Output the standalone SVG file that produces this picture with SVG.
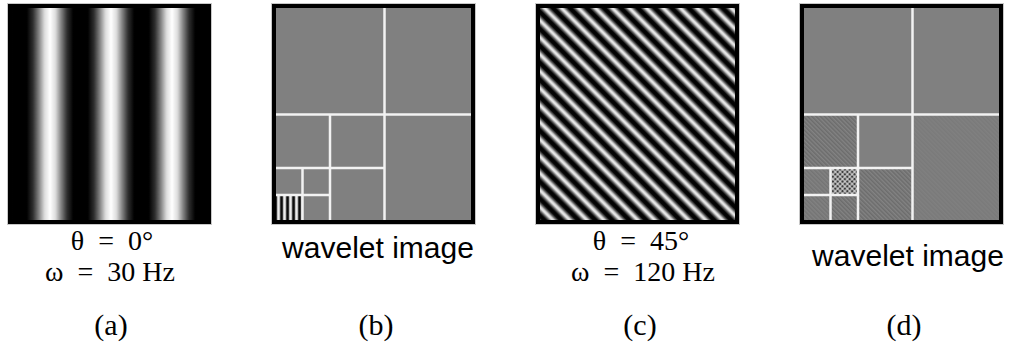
<svg xmlns="http://www.w3.org/2000/svg" width="1018" height="354" viewBox="0 0 1018 354">
<style>
.frame{fill:none;stroke:#000;stroke-width:4}
.halo{fill:none;stroke:#c8c8c8;stroke-width:1}
.grid{stroke:#f2f2f2;stroke-width:2.5;fill:none}
.m{font-family:"Liberation Serif","Times New Roman",serif;font-size:28px;text-anchor:middle;fill:#000}
.s{font-family:"Liberation Sans",Arial,sans-serif;font-size:30px;text-anchor:middle;fill:#000}
.cap{font-family:"Liberation Serif","Times New Roman",serif;font-size:30px;text-anchor:middle;fill:#000}
</style>
<defs>
<linearGradient id="cosA" x1="0" y1="0" x2="1" y2="0">
<stop offset="0" stop-color="#000"/>
<stop offset="0.12" stop-color="#000"/>
<stop offset="0.22" stop-color="#2e2e2e"/>
<stop offset="0.32" stop-color="#858585"/>
<stop offset="0.41" stop-color="#dcdcdc"/>
<stop offset="0.5" stop-color="#fff"/>
<stop offset="0.59" stop-color="#dcdcdc"/>
<stop offset="0.68" stop-color="#858585"/>
<stop offset="0.78" stop-color="#2e2e2e"/>
<stop offset="0.88" stop-color="#000"/>
<stop offset="1" stop-color="#000"/>
</linearGradient>
<linearGradient id="cosC" x1="0" y1="0" x2="1" y2="0">
<stop offset="0" stop-color="#000"/>
<stop offset="0.12" stop-color="#050505"/>
<stop offset="0.27" stop-color="#5a5a5a"/>
<stop offset="0.41" stop-color="#d0d0d0"/>
<stop offset="0.5" stop-color="#f4f4f4"/>
<stop offset="0.59" stop-color="#d0d0d0"/>
<stop offset="0.73" stop-color="#5a5a5a"/>
<stop offset="0.88" stop-color="#050505"/>
<stop offset="1" stop-color="#000"/>
</linearGradient>
<linearGradient id="barG" x1="0" y1="0" x2="1" y2="0">
<stop offset="0" stop-color="#9a9a9a"/>
<stop offset="0.2" stop-color="#f6f6f6"/>
<stop offset="0.4" stop-color="#d0d0d0"/>
<stop offset="0.6" stop-color="#303030"/>
<stop offset="0.8" stop-color="#000"/>
<stop offset="1" stop-color="#555"/>
</linearGradient>
<pattern id="vstripes" patternUnits="userSpaceOnUse" x="19.5" y="0" width="61" height="10">
<rect width="61" height="10" fill="url(#cosA)"/>
</pattern>
<pattern id="dstripes" patternUnits="userSpaceOnUse" width="12" height="12" patternTransform="rotate(-45)">
<rect width="12" height="12" fill="url(#cosC)"/>
</pattern>
<pattern id="bars" patternUnits="userSpaceOnUse" x="13" y="0" width="6" height="10">
<rect width="6" height="10" fill="url(#barG)"/>
</pattern>
<pattern id="texMod" patternUnits="userSpaceOnUse" width="3" height="3" patternTransform="rotate(-45)">
<rect width="3" height="3" fill="#838383"/>
<rect width="1.5" height="3" fill="#6c6c6c"/>
</pattern>
<pattern id="texFaint" patternUnits="userSpaceOnUse" width="3" height="3" patternTransform="rotate(-45)">
<rect width="3" height="3" fill="#828282"/>
<rect width="1.5" height="3" fill="#747474"/>
</pattern>
<pattern id="texVFaint" patternUnits="userSpaceOnUse" width="3" height="3" patternTransform="rotate(-45)">
<rect width="3" height="3" fill="#808080"/>
<rect width="1.5" height="3" fill="#7a7a7a"/>
</pattern>
<pattern id="texStrong" patternUnits="userSpaceOnUse" width="3.4" height="3.4" patternTransform="rotate(45)">
<rect width="3.4" height="3.4" fill="#9a9a9a"/>
<rect width="1.7" height="1.7" fill="#3c3c3c"/>
<rect x="1.7" y="1.7" width="1.7" height="1.7" fill="#c8c8c8"/>
</pattern>
</defs>

<g id="panel-a">
<rect x="10" y="6" width="199" height="216" fill="url(#vstripes)"/>
<rect class="halo" x="7.5" y="3.5" width="204" height="221"/>
<rect class="frame" x="10" y="6" width="199" height="216"/>
<text class="m" x="112" y="250">θ&#8194;=&#8194;0°</text>
<text class="m" x="110" y="281">ω&#8194;=&#8194;30 Hz</text>
<text class="cap" x="111" y="335">(a)</text>
</g>

<g id="panel-b" transform="translate(264,0)">
<rect x="10" y="6" width="199" height="216" fill="#808080"/>
<rect x="12" y="195" width="25.5" height="25" fill="url(#bars)"/>
<g class="grid">
<line x1="120.5" y1="8" x2="120.5" y2="220"/>
<line x1="12" y1="114.5" x2="207" y2="114.5"/>
<line x1="66" y1="114.5" x2="66" y2="220"/>
<line x1="12" y1="168" x2="120.5" y2="168"/>
<line x1="38.5" y1="168" x2="38.5" y2="220"/>
<line x1="12" y1="195" x2="66" y2="195"/>
</g>
<rect class="halo" x="7.5" y="3.5" width="204" height="221"/>
<rect class="frame" x="10" y="6" width="199" height="216"/>
<text class="s" x="114" y="258">wavelet image</text>
<text class="cap" x="112" y="335">(b)</text>
</g>

<g id="panel-c" transform="translate(528,0)">
<rect x="10" y="6" width="199" height="216" fill="url(#dstripes)"/>
<rect class="halo" x="7.5" y="3.5" width="204" height="221"/>
<rect class="frame" x="10" y="6" width="199" height="216"/>
<text class="m" x="113" y="250">θ&#8194;=&#8194;45°</text>
<text class="m" x="115" y="281">ω&#8194;=&#8194;120 Hz</text>
<text class="cap" x="112" y="335">(c)</text>
</g>

<g id="panel-d" transform="translate(792,0)">
<rect x="10" y="6" width="199" height="216" fill="#808080"/>
<rect x="12" y="114.5" width="54" height="53.5" fill="url(#texMod)"/>
<rect x="66" y="168" width="54.5" height="52" fill="url(#texMod)"/>
<rect x="12" y="168" width="26.5" height="27" fill="url(#texFaint)"/>
<rect x="38.5" y="168" width="27.5" height="27" fill="url(#texStrong)"/>
<rect x="12" y="195" width="26.5" height="25" fill="url(#texFaint)"/>
<rect x="38.5" y="195" width="27.5" height="25" fill="url(#texMod)"/>
<rect x="120.5" y="114.5" width="86.5" height="105.5" fill="url(#texVFaint)"/>
<g class="grid">
<line x1="120.5" y1="8" x2="120.5" y2="220"/>
<line x1="12" y1="114.5" x2="207" y2="114.5"/>
<line x1="66" y1="114.5" x2="66" y2="220"/>
<line x1="12" y1="168" x2="120.5" y2="168"/>
<line x1="38.5" y1="168" x2="38.5" y2="220"/>
<line x1="12" y1="195" x2="66" y2="195"/>
</g>
<rect class="halo" x="7.5" y="3.5" width="204" height="221"/>
<rect class="frame" x="10" y="6" width="199" height="216"/>
<text class="s" x="116" y="266">wavelet image</text>
<text class="cap" x="112" y="335">(d)</text>
</g>
</svg>
